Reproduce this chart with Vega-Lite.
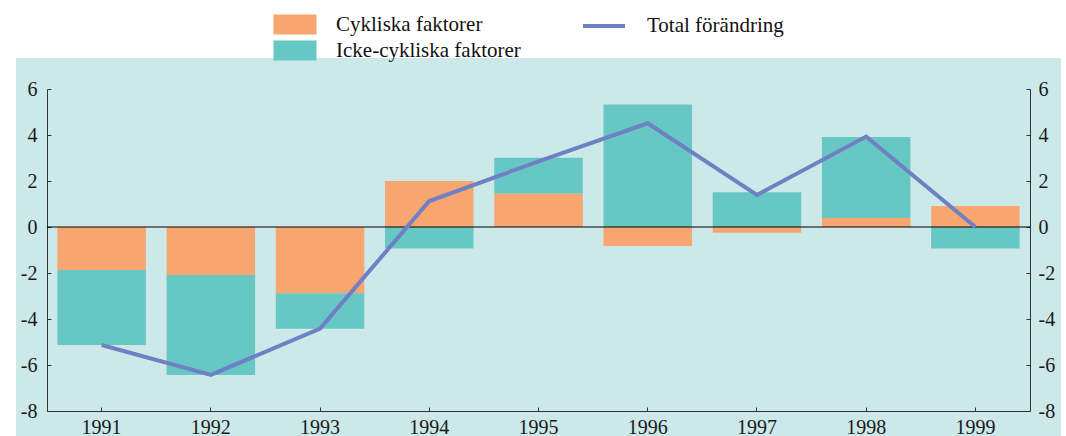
{
  "$schema": "https://vega.github.io/schema/vega-lite/v6.json",
  "width": 983,
  "height": 322,
  "autosize": {"type": "none"},
  "padding": {"left": 47, "top": 89, "right": 36, "bottom": 25},
  "background": "white",
  "config": {
    "view": {"fill": "#CCE8E8", "stroke": "#CCE8E8", "strokeWidth": 62},
    "font": "Liberation Serif",
    "axis": {
      "labelFont": "Liberation Serif",
      "labelFontSize": 20,
      "labelColor": "#1a1a1a",
      "domainColor": "#333333",
      "tickColor": "#333333",
      "tickSize": -4,
      "grid": false,
      "title": null,
      "labelExpr": "replace(datum.label, '\u2212', '-')"
    },
    "legend": {
      "labelFont": "Liberation Serif",
      "labelFontSize": 21,
      "labelColor": "#111111",
      "labelLimit": 400,
      "padding": 0
    }
  },
  "datasets": {
    "bars": [
      {"year": "1991", "type": "Cykliska faktorer", "value": -1.87},
      {"year": "1991", "type": "Icke-cykliska faktorer", "value": -3.26},
      {"year": "1992", "type": "Cykliska faktorer", "value": -2.09},
      {"year": "1992", "type": "Icke-cykliska faktorer", "value": -4.34},
      {"year": "1993", "type": "Cykliska faktorer", "value": -2.88},
      {"year": "1993", "type": "Icke-cykliska faktorer", "value": -1.54},
      {"year": "1994", "type": "Cykliska faktorer", "value": 2.0},
      {"year": "1994", "type": "Icke-cykliska faktorer", "value": -0.94},
      {"year": "1995", "type": "Cykliska faktorer", "value": 1.46},
      {"year": "1995", "type": "Icke-cykliska faktorer", "value": 1.55},
      {"year": "1996", "type": "Cykliska faktorer", "value": -0.83},
      {"year": "1996", "type": "Icke-cykliska faktorer", "value": 5.33},
      {"year": "1997", "type": "Cykliska faktorer", "value": -0.25},
      {"year": "1997", "type": "Icke-cykliska faktorer", "value": 1.51},
      {"year": "1998", "type": "Cykliska faktorer", "value": 0.39},
      {"year": "1998", "type": "Icke-cykliska faktorer", "value": 3.52},
      {"year": "1999", "type": "Cykliska faktorer", "value": 0.91},
      {"year": "1999", "type": "Icke-cykliska faktorer", "value": -0.94}
    ],
    "total": [
      {"year": "1991", "total": -5.13},
      {"year": "1992", "total": -6.43},
      {"year": "1993", "total": -4.42},
      {"year": "1994", "total": 1.13},
      {"year": "1995", "total": 2.85},
      {"year": "1996", "total": 4.51},
      {"year": "1997", "total": 1.39},
      {"year": "1998", "total": 3.93},
      {"year": "1999", "total": 0.0}
    ],
    "zero": [{"v": 0}]
  },
  "layer": [
    {
      "data": {"name": "bars"},
      "mark": {"type": "bar"},
      "encoding": {
        "x": {
          "field": "year",
          "type": "ordinal",
          "scale": {"paddingInner": 0.19, "paddingOuter": 0.095},
          "axis": {"labelAngle": 0, "labelPadding": 10}
        },
        "y": {
          "field": "value",
          "type": "quantitative",
          "stack": "zero",
          "scale": {"domain": [-8, 6], "nice": false, "zero": false},
          "axis": {"orient": "left", "values": [-8, -6, -4, -2, 0, 2, 4, 6], "labelPadding": 14}
        },
        "order": {"field": "type", "type": "nominal", "sort": "ascending"},
        "color": {
          "field": "type",
          "type": "nominal",
          "scale": {
            "domain": ["Cykliska faktorer", "Icke-cykliska faktorer"],
            "range": ["#F7A66F", "#66C7C4"]
          },
          "legend": {
            "orient": "none",
            "legendX": 237.5,
            "legendY": -75,
            "title": null,
            "direction": "vertical",
            "symbolType": "M-2.15,-1H2.15V1H-2.15Z",
            "symbolSize": 400,
            "symbolStrokeWidth": 0,
            "labelOffset": 30.5,
            "rowPadding": 4
          }
        }
      }
    },
    {
      "data": {"name": "zero"},
      "mark": {"type": "rule", "color": "#000000", "strokeWidth": 1},
      "encoding": {
        "y": {
          "field": "v",
          "type": "quantitative",
          "scale": {"domain": [-8, 6], "nice": false, "zero": false},
          "axis": null
        }
      }
    },
    {
      "data": {"name": "total"},
      "mark": {"type": "line", "strokeWidth": 4},
      "encoding": {
        "x": {"field": "year", "type": "ordinal"},
        "y": {
          "field": "total",
          "type": "quantitative",
          "scale": {"domain": [-8, 6], "nice": false, "zero": false},
          "axis": {"orient": "right", "values": [-8, -6, -4, -2, 0, 2, 4, 6], "labelPadding": 12}
        },
        "stroke": {
          "datum": "Total förändring",
          "type": "nominal",
          "scale": {"range": ["#7080C4"]},
          "legend": {
            "orient": "none",
            "legendX": 545,
            "legendY": -75,
            "title": null,
            "symbolType": "M-2.1,0H2.1",
            "symbolSize": 400,
            "symbolStrokeWidth": 4,
            "labelOffset": 31
          }
        }
      }
    }
  ],
  "resolve": {"scale": {"y": "independent"}}
}
